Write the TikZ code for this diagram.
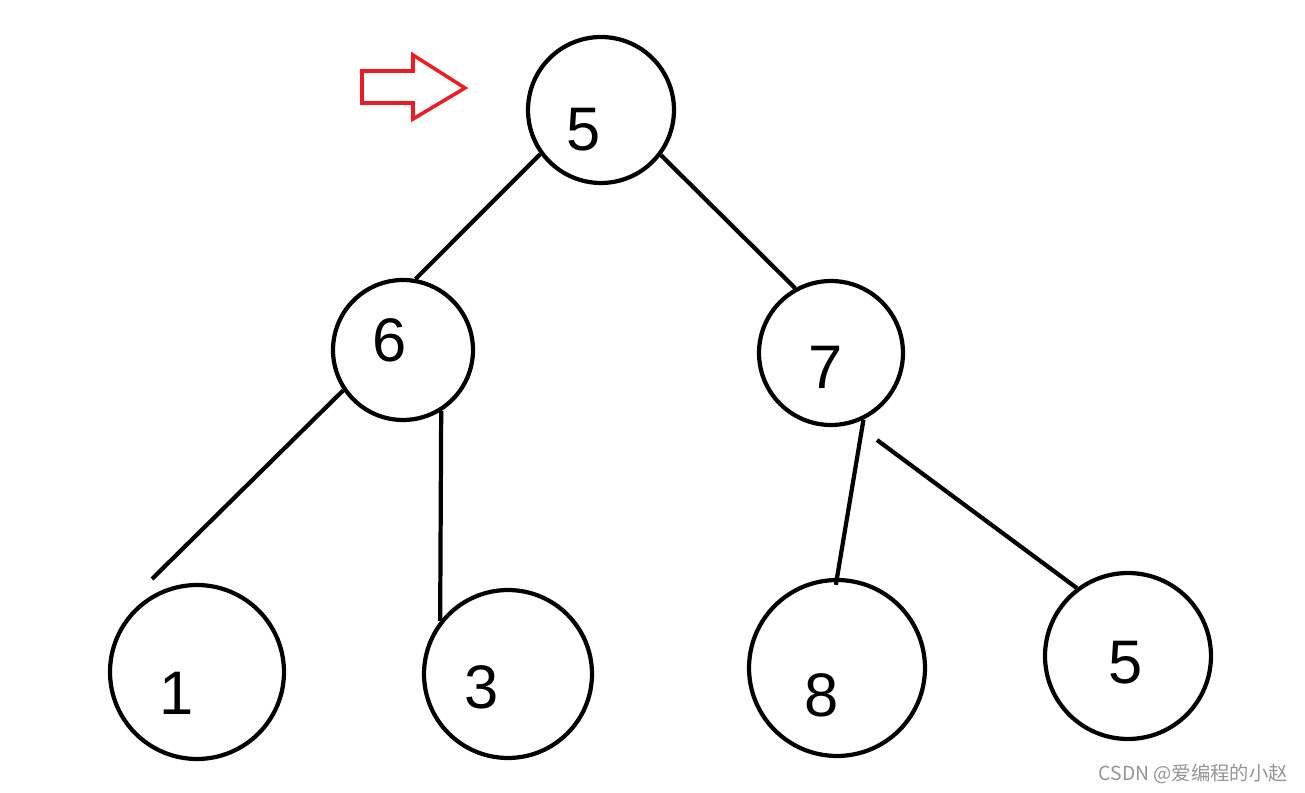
\documentclass[tikz,border=0pt]{standalone}
\usepackage{fontspec}
\setmainfont{Liberation Sans}
\newfontfamily\cjk{Noto Sans CJK SC}
\usepackage{tikz}

\begin{document}
\begin{tikzpicture}[x=0.02cm, y=-0.02cm, line width=2.4pt,
    vertex/.style={draw, circle, inner sep=0pt},
    digit/.style={font=\fontsize{35}{40}\selectfont, inner sep=0pt}]
    \useasboundingbox (0,0) rectangle (1305,793);

    % Mũi tên đỏ
    \definecolor{arrowred}{RGB}{237,28,36}
    \draw[arrowred, line width=2pt] (362,71) -- (413,71) -- (413,55) -- (465,88)
        -- (413,119) -- (413,103) -- (362,103) -- cycle;

    % Các nút của cây
    \node[vertex, minimum size=2.92cm,
        label={[digit, xshift=-0.34cm, yshift=-0.40cm]center:5}] (root) at (601,110) {};
    \node[vertex, minimum size=2.80cm,
        label={[digit, xshift=-0.26cm, yshift=0.20cm]center:6}] (six) at (403,350) {};
    \node[vertex, minimum size=2.88cm,
        label={[digit, xshift=-0.10cm, yshift=-0.28cm]center:7}] (seven) at (831,353) {};
    \node[vertex, minimum size=3.48cm,
        label={[digit, xshift=-0.40cm, yshift=-0.42cm]center:1}] (one) at (197,672) {};
    \node[vertex, minimum size=3.36cm,
        label={[digit, xshift=-0.52cm, yshift=-0.26cm]center:3}] (three) at (508,674) {};
    \node[vertex, minimum size=3.52cm,
        label={[digit, xshift=-0.30cm, yshift=-0.54cm]center:8}] (eight) at (837,668) {};
    \node[vertex, minimum size=3.32cm,
        label={[digit, xshift=-0.04cm, yshift=-0.14cm]center:5}] (five) at (1128,656) {};

    % Đầu tự do của hai cạnh
    \coordinate (oneEnd) at (152,579);
    \coordinate (fiveStart) at (877,440);

    % Các cạnh
    \draw (root.216) -- (six.80);
    \draw (root.323) -- (seven.119);
    \draw (six.214) -- (oneEnd);
    \draw (six.302) -- (three.142);
    \draw[shorten >=-0.14cm] (seven.296) -- (eight.90);
    \draw (fiveStart) -- (five.127);

    % Chữ ký
    \node[anchor=east, text=black!42, font=\cjk\fontsize{11}{13}\selectfont, inner sep=0pt]
        (mark) at (1290,774) {CSDN @爱编程的小赵};
\end{tikzpicture}
\end{document}
